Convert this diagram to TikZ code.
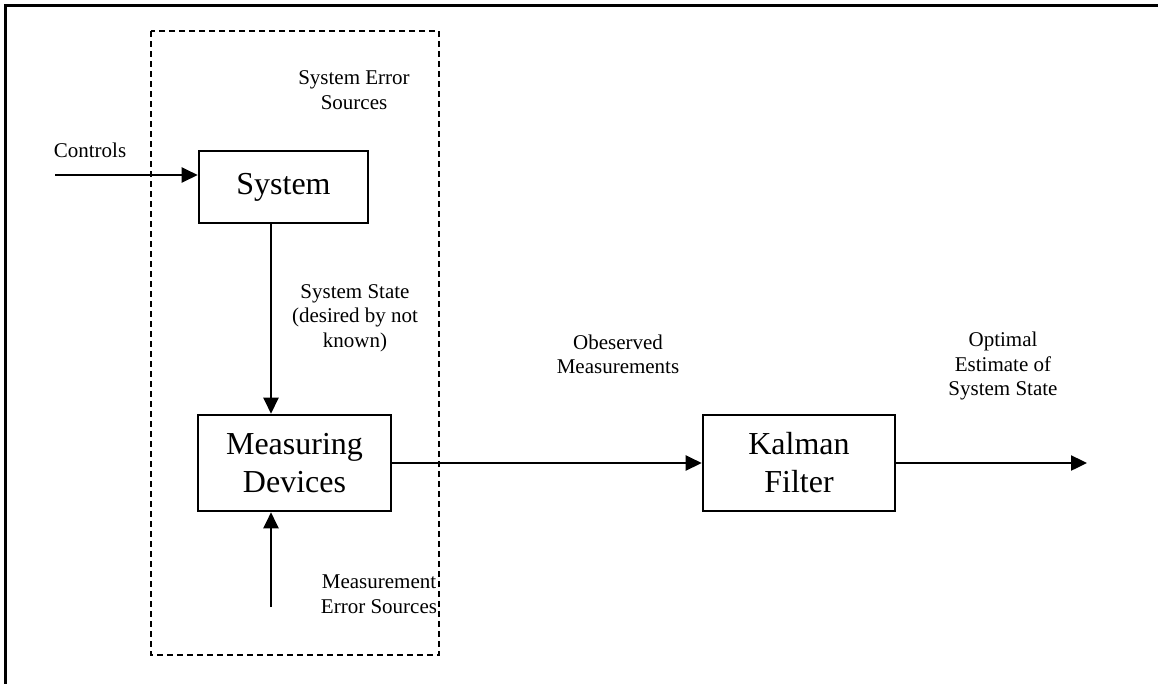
\documentclass[tikz,border=0pt]{standalone}
\usepackage{fontspec}
\setmainfont{Liberation Serif}
\usetikzlibrary{arrows.meta}

\tikzset{
  block/.style={draw, line width=2.6pt, inner sep=0pt, align=center,
                font=\fontsize{32}{38}\selectfont},
  label/.style={inner sep=0pt, align=center, font=\fontsize{21}{24.5}\selectfont},
  arr/.style={line width=2.4pt, -{Triangle[length=16pt,width=15pt]}},
  frame/.style={line width=2.6pt},
  boundary/.style={line width=2.4pt, dash pattern=on 6pt off 4pt}
}

\begin{document}
\begin{tikzpicture}[x=1pt, y=-1pt]
  \useasboundingbox (0,0) rectangle (1158,683);

  % outer frame (only the top and left sides fall inside the page)
  \draw[frame] (5.5,690) -- (5.5,5.5) -- (1165,5.5);

  % dashed boundary around the physical system
  \draw[boundary] (151,31) rectangle (439,655);

  % blocks
  \node[block, minimum width=169pt, minimum height=72pt] (sys) at (283.5,187) {System};
  \node[block, minimum width=193pt, minimum height=96pt] (meas) at (294.5,463) {Measuring\\Devices};
  \node[block, minimum width=192pt, minimum height=96pt] (kal) at (799,463) {Kalman\\Filter};

  % free ends of connectors
  \coordinate (ctrl) at (55,175);
  \coordinate (sv) at (271,0);
  \coordinate (merr) at (271,607);
  \coordinate (out) at (1087,463);

  % connectors
  \draw[arr] (ctrl) -- (sys.west |- ctrl);
  \draw[arr] (sys.south -| sv) -- (meas.north -| sv);
  \draw[arr] (merr) -- (meas.south -| merr);
  \draw[arr] (meas.east) -- (kal.west);
  \draw[arr] (kal.east) -- (out);

  % labels
  \node[label] (lctrl) at (90,150) {Controls};
  \node[label] (lsyserr) at (354,90) {System Error\\Sources};
  \node[label] (lstate) at (355,318) {System State\\(desired by not\\known)};
  \node[label] (lmerr) at (379,594) {Measurement\\Error Sources};
  \node[label] (lobs) at (618,354.5) {Obeserved\\Measurements};
  \node[label] (lopt) at (1003,366) {Optimal\\Estimate of\\System State};
\end{tikzpicture}
\end{document}
